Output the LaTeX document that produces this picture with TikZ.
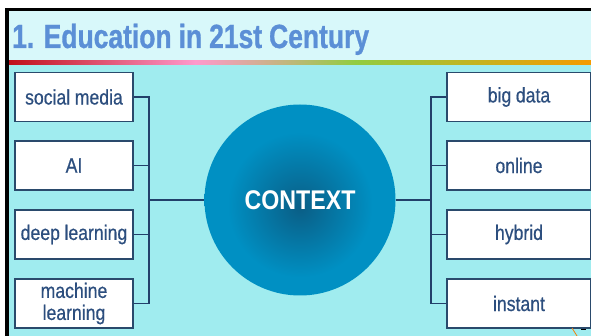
\documentclass[tikz,border=0pt]{standalone}
\usepackage{fontspec}
\setmainfont[FakeStretch=0.86]{Liberation Sans}
\newfontfamily\boxfont[FakeStretch=0.84, FakeBold=0.5]{Liberation Sans}
\newfontfamily\titlefont[FakeStretch=0.79, FakeBold=0.9]{Liberation Sans}
\newcommand\myboxfont{\boxfont\fontsize{21}{21}\selectfont\spaceskip=4.6pt\relax}
\newcommand\myboxfonttwo{\boxfont\fontsize{21}{22}\selectfont}
\newcommand\mytitlefont{\titlefont\fontsize{33.5}{36}\selectfont\bfseries\spaceskip=7pt\relax}
\usetikzlibrary{calc}
\definecolor{bgcyan}{HTML}{A0ECEF}
\definecolor{titleband}{HTML}{D8F8FA}
\definecolor{titleblue}{HTML}{5B8FD6}
\definecolor{boxtext}{HTML}{2C4E7E}
\definecolor{boxline}{HTML}{2A4A6C}
\definecolor{wire}{HTML}{22406A}
\definecolor{ctxin}{HTML}{0A5E86}
\definecolor{ctxout}{HTML}{0090C3}
\definecolor{rbred}{HTML}{C0101A}
\definecolor{rbpink}{HTML}{FF99CC}
\definecolor{rbgreen}{HTML}{92CC40}
\definecolor{rborange}{HTML}{F59A00}
\pgfdeclarehorizontalshading{rainbowline}{100bp}{color(0bp)=(rbred); color(25bp)=(rbred); color(41bp)=(rbpink); color(54.7bp)=(rbgreen); color(75bp)=(rborange); color(100bp)=(rborange)}
\pgfdeclareradialshading{ctxshade}{\pgfpoint{0bp}{-2bp}}{color(0bp)=(ctxin); color(19bp)=(ctxout); color(50bp)=(ctxout)}
\tikzset{
  itembox/.style={draw=boxline, line width=1.3pt, fill=white, text=boxtext,
    minimum height=49pt, inner sep=1pt, align=center, font=\myboxfont},
  leftbox/.style={itembox, minimum width=118pt},
  rightbox/.style={itembox, minimum width=144pt},
  wireline/.style={draw=wire, line width=1.5pt},
}
\begin{document}
\begin{tikzpicture}[x=1pt,y=-1pt]
\useasboundingbox (0,0) rectangle (591,336);
\begin{scope}
\clip (0,0) rectangle (591,336);
\fill[white] (0,0) rectangle (591,336);
\fill[bgcyan] (9,11) rectangle (592,337);
\fill[titleband] (9,11) rectangle (592,61);
\shade[shading=rainbowline] (9,61) rectangle (592,64.5);
\fill[black] (5,8) rectangle (592,11);
\fill[black] (5,8) rectangle (9,337);
\node[anchor=base west, text=titleblue, font=\mytitlefont, inner sep=0pt] (title) at (12,48) {1. Education in 21st Century};

% centre
\node[circle, minimum size=191pt, shading=ctxshade, text=white,
  font=\fontsize{27}{28}\selectfont\bfseries, inner sep=0pt] (ctx) at (300,200) {CONTEXT};

% left boxes
\node[leftbox] (sm) at (74,97) {social media};
\node[leftbox] (ai) at (74,165.5) {AI};
\node[leftbox] (dl) at (74,234.5) {deep learning};
\node[leftbox, font=\myboxfonttwo] (ml) at (74,303.5) {machine\\learning};

% right boxes
\node[rightbox] (bd) at (519,97) {big data};
\node[rightbox] (on) at (519,165.5) {online};
\node[rightbox] (hy) at (519,234.5) {hybrid};
\node[rightbox] (in) at (519,303.5) {instant};

\coordinate (L) at (149,200);
\coordinate (R) at (431,200);
\foreach \b in {sm,ai,dl,ml} \draw[wireline] (\b.east) -| (L);
\foreach \b in {bd,on,hy,in} \draw[wireline] (\b.west) -| (R);
\draw[wireline] (L) -- (ctx.west);
\draw[wireline] (R) -- (ctx.east);

% small partial decoration bottom right
\draw[draw=orange!80!brown, line width=0.8pt] (572,328) .. controls (574,332) .. (577,336);
\fill[black] (581,328.5) rectangle (586,330);
\end{scope}
\end{tikzpicture}
\end{document}
